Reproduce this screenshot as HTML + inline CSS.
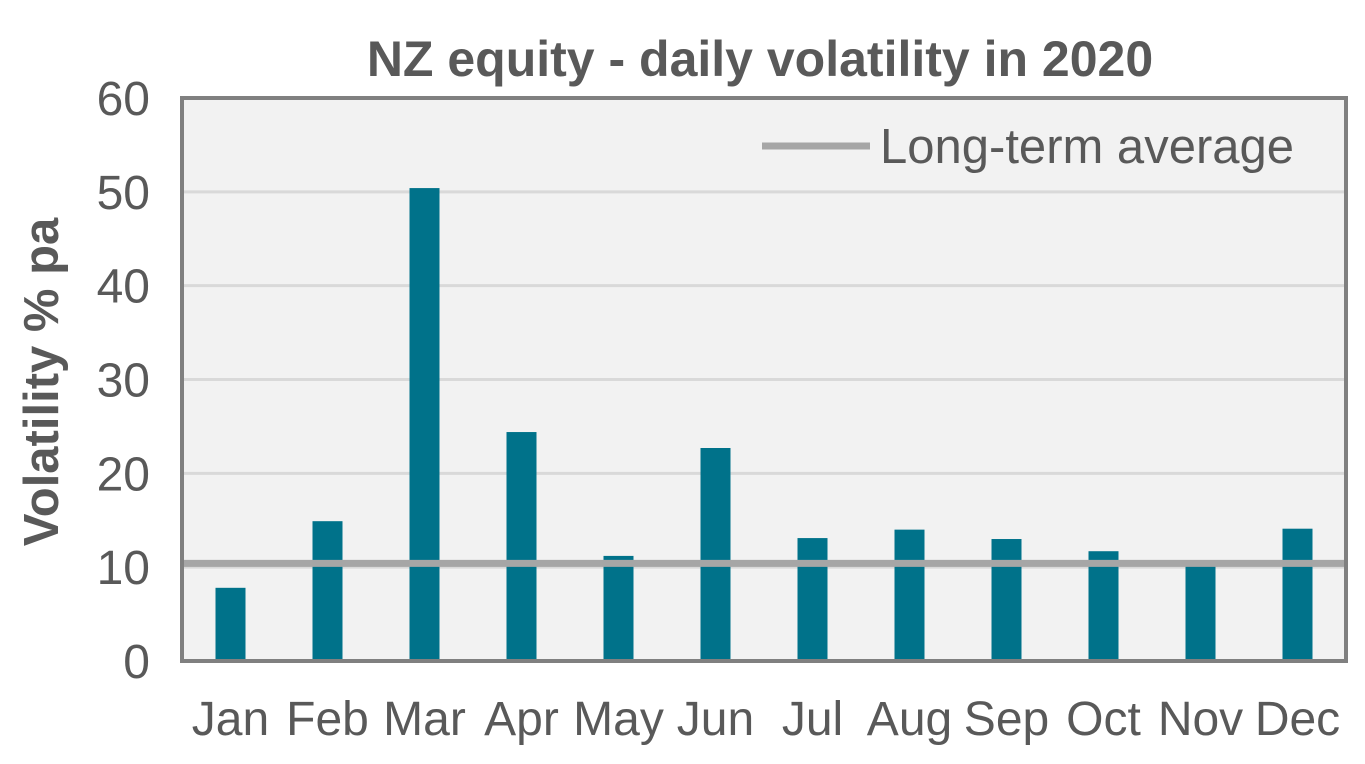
<!DOCTYPE html>
<html><head><meta charset="utf-8"><style>
body{margin:0;background:#fff;}
svg text{font-family:"Liberation Sans",Arial,sans-serif;}
</style></head><body>
<svg id="chart" width="1365" height="759" xmlns="http://www.w3.org/2000/svg">
<text x="760" y="76" text-anchor="middle" font-size="50" font-weight="bold" fill="#595959">NZ equity - daily volatility in 2020</text>
<rect x="182" y="98" width="1164" height="563" fill="#f2f2f2"/>
<g id="grid"></g>
<g id="bars"></g>
<g id="xlabels"></g>
<g id="ylabels"></g>
<line id="avg" x1="182" x2="1346" stroke="#a6a6a6" stroke-width="7"/>
<path d="M182 98 V661 H1346 V98 Z" fill="none" stroke="#808080" stroke-width="4"/>
<text transform="translate(58,382) rotate(-90)" text-anchor="middle" font-size="49" font-weight="bold" fill="#595959">Volatility % pa</text>
<g>
<line x1="762" x2="870" y1="146" y2="146" stroke="#a6a6a6" stroke-width="7"/>
<text x="880" y="163" font-size="49" fill="#595959">Long-term average</text>
</g>
</svg>
<script>
const categories=["Jan","Feb","Mar","Apr","May","Jun","Jul","Aug","Sep","Oct","Nov","Dec"];
const values=[7.8,14.9,50.4,24.4,11.2,22.7,13.1,14.0,13.0,11.7,10.3,14.1];
const avgValue=[10.4];
const yTicks=[0,10,20,30,40,50,60];
const NS="http://www.w3.org/2000/svg";
const x0=182,x1=1346,yBase=661,yTop=98,yMax=60;
const band=(x1-x0)/categories.length;
function xc(i){return x0+band*(i+0.5);}
function y(v){return yBase-(v/yMax)*(yBase-yTop);}
function mk(tag,attrs,parent){const e=document.createElementNS(NS,tag);for(const k in attrs)e.setAttribute(k,attrs[k]);document.getElementById(parent).appendChild(e);return e;}
yTicks.forEach(t=>{
 if(t>0&&t<yMax){const g=mk("line",{x1:x0,x2:x1,y1:y(t),y2:y(t),stroke:"#d9d9d9","stroke-width":3},"grid");
 
 }
 const l=mk("text",{x:150,y:y(t)+17,"text-anchor":"end","font-size":48,fill:"#595959"},"ylabels");
 l.textContent=t;
 
 
});
values.forEach((v,i)=>{
 const b=mk("rect",{x:xc(i)-15,y:y(v),width:30,height:yBase-y(v),fill:"#00728a"},"bars");
 
 
 const t=mk("text",{x:xc(i),y:735,"text-anchor":"middle","font-size":48,fill:"#595959"},"xlabels");
 t.textContent=categories[i];
 
 
});
const a=document.getElementById("avg");
a.setAttribute("y1",y(avgValue[0]));a.setAttribute("y2",y(avgValue[0]));
</script>
</body></html>
